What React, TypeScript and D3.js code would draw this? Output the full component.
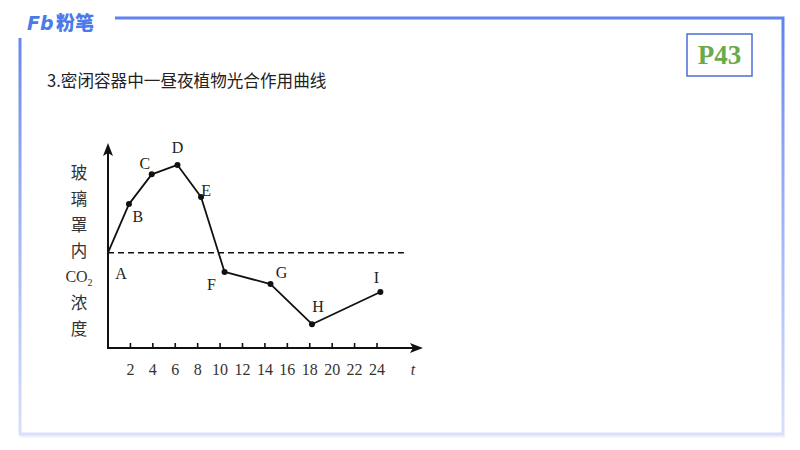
import { useEffect } from "react";
import * as d3 from "d3";

// points of the curve (t in hours, CO2 level in arbitrary units)
const pointNames = ["A", "B", "C", "D", "E", "F", "G", "H", "I"];
const pointT = [0, 1.87, 3.9, 6.2, 8.3, 10.4, 14.5, 18.2, 24.3];
const pointCO2 = [46.5, 70.2, 84.7, 89.3, 73.7, 37.1, 31.2, 11.6, 27.3];
// label offsets (px) relative to each point
const labelDx = [13, 9, -7, 0, 5, -13, 11, 6, -4];
const labelDy = [21, 12, -11, -17, -6, 13, -12, -18, -15];

const xTicks = [2, 4, 6, 8, 10, 12, 14, 16, 18, 20, 22, 24];
const yTitle = ["玻", "璃", "罩", "内", "CO2", "浓", "度"];
const baseline = 46.5; // level at A (dashed line)

const W = 800;
const H = 450;
const serif = "'Liberation Serif', 'DejaVu Serif', serif";
const cjk = "'Noto Sans CJK SC', sans-serif";

export default function App() {
  useEffect(() => {
    document.body.style.margin = "0";
  }, []);

  const x = d3.scaleLinear().domain([0, 24]).range([108, 377]);
  const y = d3.scaleLinear().domain([0, 100]).range([348, 143]);

  const pts = pointT.map((t, i) => ({ t, v: pointCO2[i], name: pointNames[i], i }));
  const line = d3
    .line<(typeof pts)[0]>()
    .x((d) => x(d.t))
    .y((d) => y(d.v));

  const x0 = x(0);
  const y0 = y(0);
  const xEnd = x(28.1);
  const yTop = y(100);

  return (
    <svg width={W} height={H} style={{ display: "block", background: "#fff" }}>
      <defs>
        <linearGradient id="frameGrad" gradientUnits="userSpaceOnUse" x1="0" y1="18" x2="0" y2="434">
          <stop offset="0" stopColor="#5f82ee" />
          <stop offset="0.35" stopColor="#8fa8f3" />
          <stop offset="1" stopColor="#d8e0fb" />
        </linearGradient>
      </defs>

      {/* frame */}
      <path d="M20,436 H785" stroke="#eef1fd" strokeWidth={3} fill="none" />
      <path
        d="M115,18 H783 V434 H20 V38"
        fill="none"
        stroke="url(#frameGrad)"
        strokeWidth={3}
      />

      {/* logo */}
      <text x={27} y={30} fill="#4a7be9" fontFamily="'DejaVu Sans', sans-serif" fontWeight={700} fontSize={19} fontStyle="italic">
        Fb
      </text>
      <text x={56} y={30} fill="#4a7be9" fontFamily={cjk} fontWeight={900} fontSize={19}>
        粉笔
      </text>

      {/* page number */}
      <rect x={687} y={34} width={65} height={42} fill="#fff" stroke="#4a6fd2" strokeWidth={1.5} />
      <text x={719.5} y={64} textAnchor="middle" fill="#6aaa4a" fontFamily={serif} fontWeight={700} fontSize={27}>
        P43
      </text>

      {/* title */}
      <text x={47} y={87} fill="#222" fontFamily={cjk} fontSize={16.6}>
        3.密闭容器中一昼夜植物光合作用曲线
      </text>

      {/* y title (vertical) */}
      {yTitle.map((s, i) =>
        s === "CO2" ? (
          <text key={i} x={79} y={282} textAnchor="middle" fill="#333" fontFamily={serif} fontSize={16}>
            CO<tspan fontSize={10} dy={4}>2</tspan>
          </text>
        ) : (
          <text key={i} x={79} y={179 + i * 26} textAnchor="middle" fill="#333" fontFamily={cjk} fontSize={16.5}>
            {s}
          </text>
        )
      )}

      {/* axes */}
      <line x1={x0} y1={y0} x2={xEnd - 8} y2={y0} stroke="#111" strokeWidth={2} />
      <path d={`M${xEnd},${y0} L${xEnd - 13},${y0 - 5} L${xEnd - 10},${y0} L${xEnd - 13},${y0 + 5} Z`} fill="#111" />
      <line x1={x0} y1={y0 + 1} x2={x0} y2={yTop + 8} stroke="#111" strokeWidth={2} />
      <path d={`M${x0},${yTop} L${x0 - 5},${yTop + 13} L${x0},${yTop + 10} L${x0 + 5},${yTop + 13} Z`} fill="#111" />

      {/* ticks */}
      {xTicks.map((t) => (
        <g key={t}>
          <line x1={x(t)} x2={x(t)} y1={y0} y2={y0 - 5} stroke="#111" strokeWidth={1.6} />
          <text x={x(t)} y={y0 + 27} textAnchor="middle" fill="#333" fontFamily={serif} fontSize={16}>
            {t}
          </text>
        </g>
      ))}
      <text x={413} y={y0 + 27} textAnchor="middle" fill="#333" fontFamily={serif} fontStyle="italic" fontSize={16}>
        t
      </text>

      {/* dashed reference */}
      <line
        x1={x0}
        x2={x(26.4)}
        y1={y(baseline)}
        y2={y(baseline)}
        stroke="#111"
        strokeWidth={1.6}
        strokeDasharray="6,4"
      />

      {/* curve */}
      <path d={line(pts) || ""} fill="none" stroke="#111" strokeWidth={1.8} strokeLinejoin="round" />
      {pts.slice(1).map((d) => (
        <circle key={d.name} cx={x(d.t)} cy={y(d.v)} r={3} fill="#111" />
      ))}
      {pts.map((d) => (
        <text
          key={d.name + "l"}
          x={x(d.t) + labelDx[d.i]}
          y={y(d.v) + labelDy[d.i] + 5.5}
          textAnchor="middle"
          fill="#222"
          fontFamily={serif}
          fontSize={16}
        >
          {d.name}
        </text>
      ))}
    </svg>
  );
}
